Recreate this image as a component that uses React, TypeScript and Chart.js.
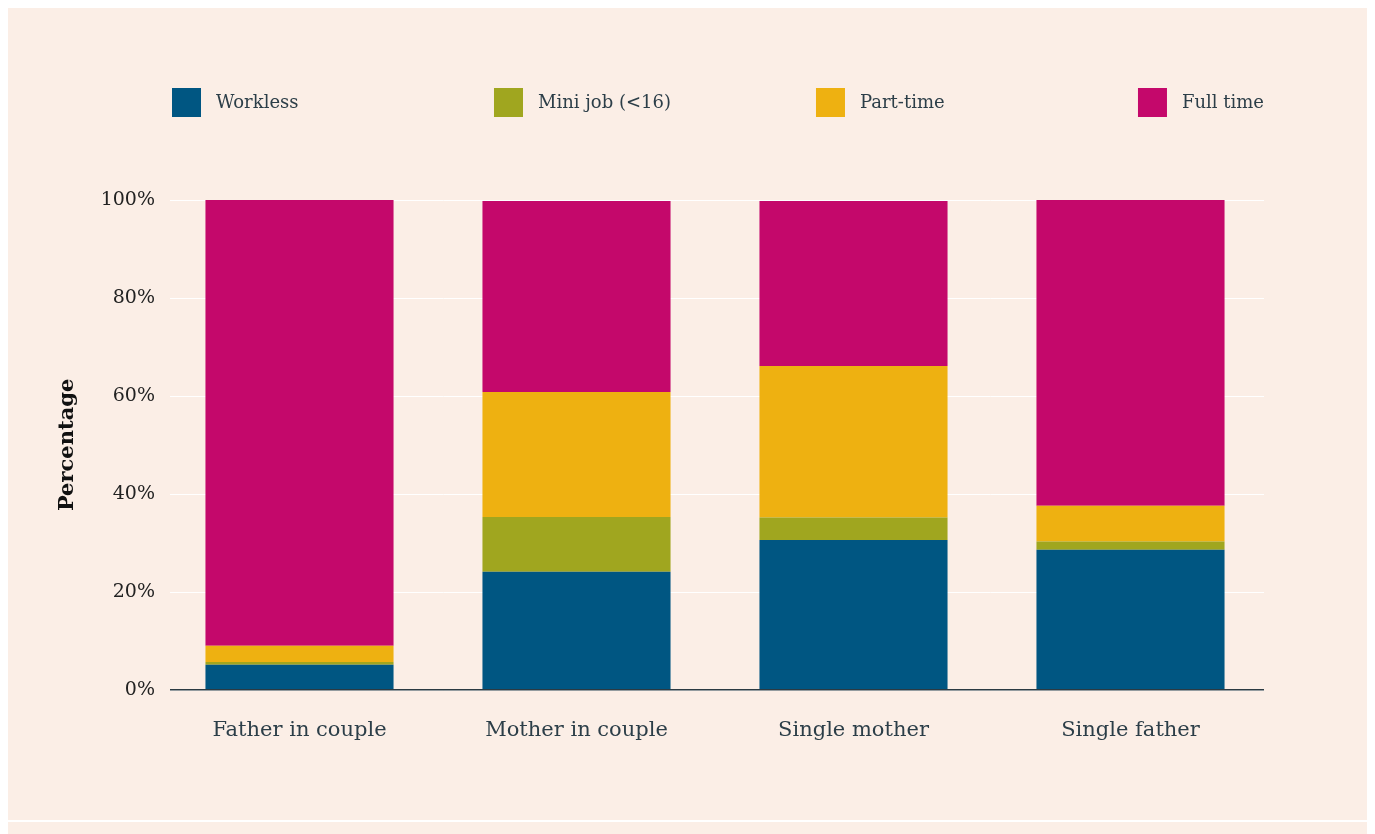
import React, { useEffect, useRef } from "react";
import { Chart, registerables } from "chart.js";

Chart.register(...registerables);

const categories = ["Father in couple", "Mother in couple", "Single mother", "Single father"];
const seriesNames = ["Workless", "Mini job (<16)", "Part-time", "Full time"];
const workless = [5.1, 24.1, 30.6, 28.6];
const miniJob = [0.6, 11.2, 4.6, 1.7];
const partTime = [3.3, 25.5, 30.9, 7.3];
const fullTime = [91.0, 39.0, 33.7, 62.4];
const yTicks = [0, 20, 40, 60, 80, 100];

const colors = ["#005682", "#A0A61F", "#EEB111", "#C4086B"];
const FONT = "'DejaVu Serif', serif";
const TEXT = "#2c3e48";
const GRID_INSET_LEFT = 9;
const GRID_INSET_RIGHT = 5;

const gridPlugin = {
  id: "insetGrid",
  beforeDatasetsDraw(chart: any) {
    const { ctx, chartArea, scales } = chart;
    const l = chartArea.left + GRID_INSET_LEFT;
    const r = chartArea.right - GRID_INSET_RIGHT;
    ctx.save();
    ctx.strokeStyle = "#ffffff";
    ctx.lineWidth = 1;
    scales.y.ticks.forEach((t: any) => {
      const y = Math.round(scales.y.getPixelForValue(t.value)) + 0.5;
      ctx.beginPath();
      ctx.moveTo(l, y);
      ctx.lineTo(r, y);
      ctx.stroke();
    });
    ctx.restore();
  },
  afterDatasetsDraw(chart: any) {
    const { ctx, chartArea, scales } = chart;
    const l = chartArea.left + GRID_INSET_LEFT;
    const r = chartArea.right - GRID_INSET_RIGHT;
    const y = scales.y.getPixelForValue(0);
    ctx.save();
    ctx.strokeStyle = "#2b3a42";
    ctx.lineWidth = 1.5;
    ctx.beginPath();
    ctx.moveTo(l, y);
    ctx.lineTo(r, y);
    ctx.stroke();
    ctx.restore();
  },
};

const legendPlugin = {
  id: "slotLegend",
  afterDraw(chart: any) {
    const { ctx, chartArea } = chart;
    const box = 29;
    const gap = 15;
    ctx.save();
    ctx.font = `18px ${FONT}`;
    ctx.textBaseline = "middle";
    ctx.textAlign = "left";
    const ds = chart.data.datasets;
    const lastW = box + gap + ctx.measureText(ds[ds.length - 1].label).width;
    const start = chartArea.left + GRID_INSET_LEFT + 2;
    const end = chartArea.right - GRID_INSET_RIGHT;
    const step = (end - start - lastW) / (ds.length - 1);
    const top = 80;
    ds.forEach((d: any, i: number) => {
      const x = start + i * step;
      ctx.fillStyle = d.backgroundColor;
      ctx.fillRect(x, top, box, box);
      ctx.fillStyle = TEXT;
      ctx.fillText(d.label, x + box + gap, top + box / 2 + 1);
    });
    ctx.restore();
  },
};

export default function App() {
  const ref = useRef<HTMLCanvasElement | null>(null);

  useEffect(() => {
    if (!ref.current) return;
    const values = [workless, miniJob, partTime, fullTime];
    const chart = new Chart(ref.current, {
      type: "bar",
      data: {
        labels: categories,
        datasets: seriesNames.map((name, i) => ({
          label: name,
          data: values[i],
          backgroundColor: colors[i],
          borderWidth: 0,
          barPercentage: 0.679,
          categoryPercentage: 1,
        })),
      },
      options: {
        animation: false,
        responsive: false,
        maintainAspectRatio: false,
        layout: { padding: { left: 40, right: 98, top: 192, bottom: 49 } },
        plugins: {
          legend: { display: false },
          tooltip: { enabled: false },
        },
        scales: {
          x: {
            stacked: true,
            grid: { display: false, drawTicks: false },
            border: { display: false },
            ticks: {
              padding: 28,
              color: TEXT,
              font: { family: FONT, size: 21 },
            },
          },
          y: {
            stacked: true,
            min: 0,
            max: 100,
            afterBuildTicks(scale: any) {
              scale.ticks = yTicks.map((v) => ({ value: v }));
            },
            afterFit(scale: any) {
              scale.width = 113;
            },
            grid: { display: false, drawTicks: false },
            border: { display: false },
            ticks: {
              padding: 6,
              color: "#222222",
              font: { family: FONT, size: 19 },
              callback: (v: any) => `${v}%`,
            },
            title: {
              display: true,
              text: "Percentage",
              color: "#111111",
              padding: { top: 7, bottom: 0 },
              font: { family: FONT, size: 21, weight: "bold" },
            },
          },
        },
      },
      plugins: [gridPlugin, legendPlugin],
    });
    return () => chart.destroy();
  }, []);

  return (
    <div>
      <div style={{ width: 1359, height: 812, background: "#FBEEE6" }}>
        <canvas ref={ref} width={1359} height={812} style={{ display: "block", width: 1359, height: 812 }} />
      </div>
      <div style={{ width: 1359, height: 14, marginTop: 2, background: "#FBEEE6" }} />
    </div>
  );
}
